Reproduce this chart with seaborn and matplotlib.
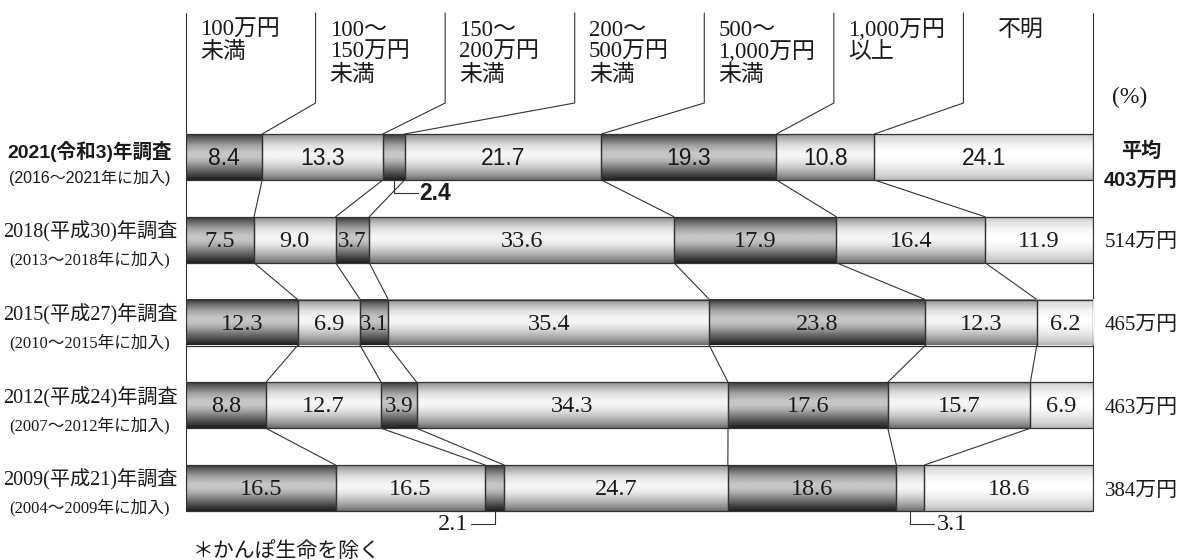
import numpy as np
import pandas as pd
import seaborn as sns
import matplotlib
matplotlib.use("Agg")
import matplotlib.pyplot as plt

# --- data -------------------------------------------------------------
surveys = ["2021(令和3)年調査", "2018(平成30)年調査", "2015(平成27)年調査",
           "2012(平成24)年調査", "2009(平成21)年調査"]
periods = ["(2016～2021年に加入)", "(2013～2018年に加入)", "(2010～2015年に加入)",
           "(2007～2012年に加入)", "(2004～2009年に加入)"]
averages = ["403万円", "514万円", "465万円", "463万円", "384万円"]
categories = ["100万円\n未満", "100～\n150万円\n未満", "150～\n200万円\n未満",
              "200～\n500万円\n未満", "500～\n1,000万円\n未満", "1,000万円\n以上", "不明"]

v_under100 = [8.4, 7.5, 12.3, 8.8, 16.5]
v_100_150 = [13.3, 9.0, 6.9, 12.7, 16.5]
v_150_200 = [2.4, 3.7, 3.1, 3.9, 2.1]
v_200_500 = [21.7, 33.6, 35.4, 34.3, 24.7]
v_500_1000 = [19.3, 17.9, 23.8, 17.6, 18.6]
v_over1000 = [10.8, 16.4, 12.3, 15.7, 3.1]
v_unknown = [24.1, 11.9, 6.2, 6.9, 18.6]

series = [v_under100, v_100_150, v_150_200, v_200_500, v_500_1000, v_over1000, v_unknown]

# --- geometry helpers (pixel layout of the 1201x560 picture) ---------
X0, X1 = 186, 1093
XS = (X1 - X0) / 100.0
Y0, YS = 157, 82.75
BAR_H = 46 / YS


def px(p):
    return (p - X0) / XS


def py(p):
    return (p - Y0) / YS


SERIF = ["Liberation Serif", "Noto Sans CJK JP"]
SANS = ["Liberation Sans", "Noto Sans CJK JP"]
INK = "#1a1a1a"

vals = np.array(series).T                      # rows x categories
totals = vals.sum(axis=1, keepdims=True)
widths = vals / totals * 100
lefts = np.cumsum(widths, axis=1) - widths
bounds = np.cumsum(widths, axis=1)

row_keys = [s[:4] for s in surveys]

sns.set_style("white")
fig = plt.figure(figsize=(12.01, 5.6), dpi=100)
ax = fig.add_axes([X0 / 1201, 0, (X1 - X0) / 1201, 1])

for k in range(len(series)):
    sns.barplot(x=widths[:, k], y=row_keys, order=row_keys, orient="h",
                left=lefts[:, k], width=BAR_H, color="white", errorbar=None,
                edgecolor="#333333", linewidth=0.9, ax=ax, zorder=4)

# cylinder-like gray shading
t = np.array([0, .1, .25, .4, .5, .6, .75, .9, 1])
prof = {
    "dark": [.22, .40, .64, .77, .77, .68, .46, .25, .12],
    "mid": [.55, .70, .88, .96, .96, .90, .76, .58, .42],
    "light": [.78, .87, .96, 1, 1, .97, .91, .82, .72],
}
kinds = ["dark", "mid", "dark", "mid", "dark", "mid", "light"]
tt = np.linspace(0, 1, 120)
grads = {k: np.interp(tt, t, v)[:, None] for k, v in prof.items()}

n_rows = len(surveys)
for i, p in enumerate(ax.patches):
    k = i // n_rows
    p.set_facecolor("none")
    x, y, w, h = p.get_x(), p.get_y(), p.get_width(), p.get_height()
    ax.imshow(grads[kinds[k]], cmap="gray", vmin=0, vmax=1, aspect="auto",
              extent=(x, x + w, y + h, y), origin="upper",
              interpolation="bilinear", zorder=3)

ax.set_xlim(0, 100)
ax.set_ylim(py(560), py(0))
ax.axis("off")

line_kw = dict(color="#333333", lw=0.8, clip_on=False, zorder=2)
top_y = py(13)
kink_y = py(103)
last_bottom = n_rows - 1 + BAR_H / 2

# frame lines
ax.plot([0, 0], [top_y, last_bottom], **line_kw)
ax.plot([100, 100], [top_y, last_bottom], **line_kw)

# header columns with leaders to the first bar
col_w = 100 / 7
for k, cat in enumerate(categories):
    for j, line in enumerate(cat.split("\n")):
        yy = py(30 + 22.5 * j)
        if k == len(categories) - 1:
            ax.text(k * col_w + col_w / 2 - 0.8, yy, line, family=SERIF, fontsize=16.5,
                    ha="center", va="center", color=INK)
        else:
            ax.text(k * col_w + px(X0 + 14), yy, line, family=SERIF, fontsize=16.5,
                    ha="left", va="center", color=INK)
    if k > 0:
        sx = k * col_w
        ax.plot([sx, sx, bounds[0, k - 1]], [top_y, kink_y, -BAR_H / 2], **line_kw)

# connectors between consecutive bars
for i in range(n_rows - 1):
    for k in range(len(series) - 1):
        ax.plot([bounds[i, k], bounds[i + 1, k]],
                [i + BAR_H / 2, i + 1 - BAR_H / 2], **line_kw)

# value labels
callouts = {(0, 2): 1, (4, 2): -1, (4, 5): 1}
for i in range(n_rows):
    fam = SANS if i == 0 else SERIF
    fs = 16.5 if i == 0 else 17.5
    for k in range(len(series)):
        cx = lefts[i, k] + widths[i, k] / 2
        txt = f"{vals[i, k]:.1f}"
        if (i, k) in callouts:
            d = callouts[(i, k)]
            ly = i + BAR_H / 2 + 13 / YS
            ex = cx + d * 24 / XS
            ax.plot([cx, cx, ex], [i + BAR_H / 2, ly, ly], **line_kw)
            ax.text(ex + d * 2 / XS, ly, txt, family=fam, fontsize=fs,
                    ha="left" if d > 0 else "right", va="center", color=INK,
                    weight="bold" if i == 0 else "normal")
        else:
            size = fs if widths[i, k] >= 5 else fs - 1
            ax.text(cx, i + 0.02, txt, family=fam, fontsize=size, ha="center",
                    va="center", color=INK, zorder=5)

# row labels and averages
lx = px(90)
rx = px(1141)
for i in range(n_rows):
    if i == 0:
        ax.text(lx, i - 5 / YS, surveys[i], family=SANS, fontsize=14,
                weight="bold", ha="center", va="center", color=INK)
        ax.text(lx, i + 21 / YS, periods[i], family=SANS, fontsize=11.5,
                ha="center", va="center", color=INK)
        ax.text(rx, i - 6 / YS, "平均", family=SANS, fontsize=14.5, weight="bold",
                ha="center", va="center", color=INK)
        ax.text(rx, i + 23 / YS, averages[i], family=SANS, fontsize=14.5,
                weight="bold", ha="center", va="center", color=INK)
    else:
        ax.text(lx, i - 8 / YS, surveys[i], family=SERIF, fontsize=14.5,
                ha="center", va="center", color=INK)
        ax.text(lx, i + 20 / YS, periods[i], family=SERIF, fontsize=12,
                ha="center", va="center", color=INK)
        ax.text(rx, i + 3 / YS, averages[i], family=SERIF, fontsize=15,
                ha="center", va="center", color=INK)

ax.text(px(1112), py(97), "(%)", family=SERIF, fontsize=17, ha="left",
        va="center", color=INK)
ax.text(px(193), py(542), "＊かんぽ生命を除く", family=SERIF, fontsize=15,
        ha="left", va="top", color=INK)

fig.savefig("out.png", dpi=100)
